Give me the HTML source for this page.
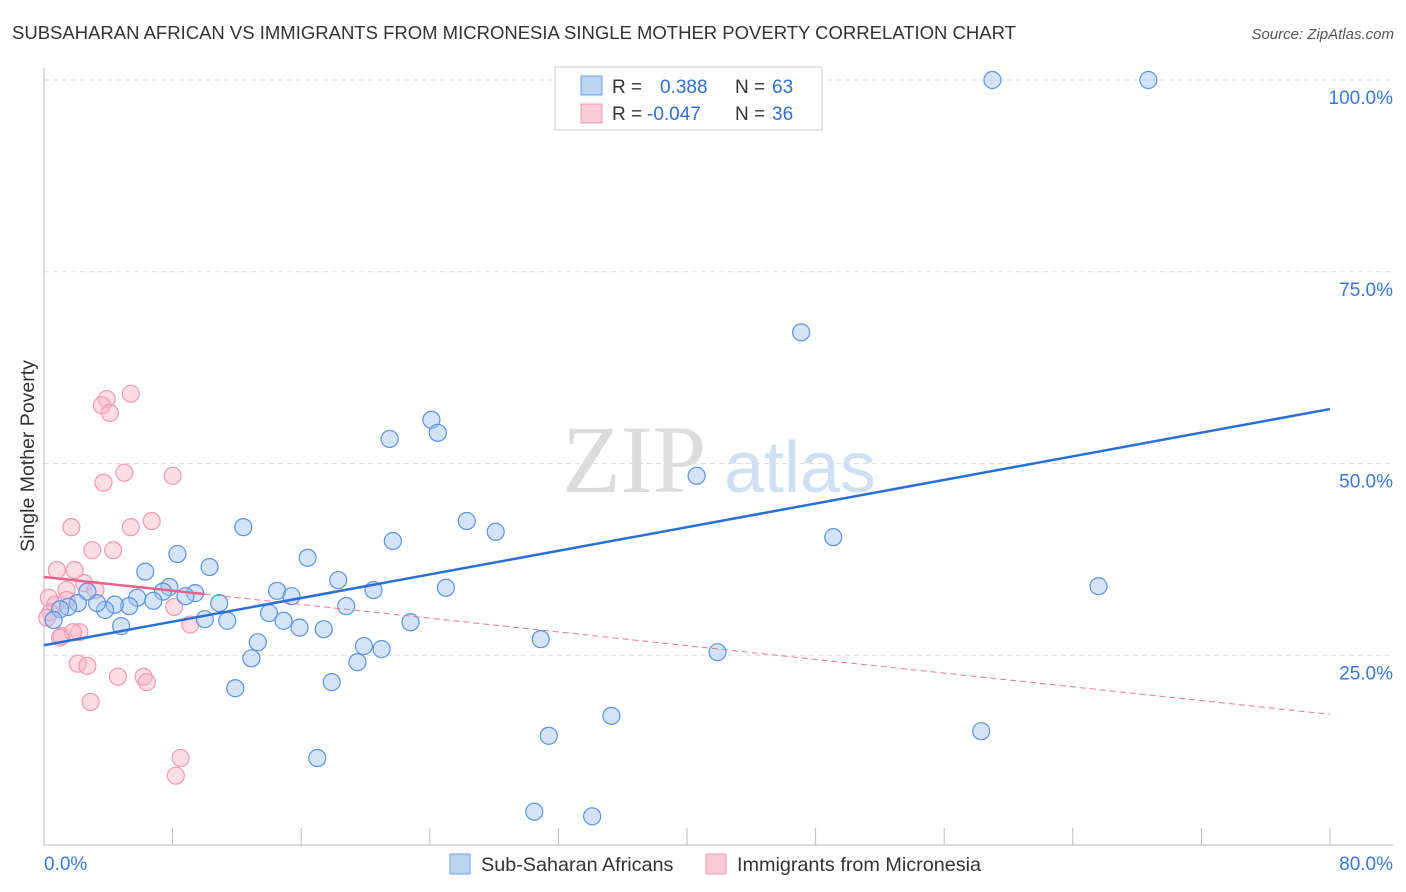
<!DOCTYPE html>
<html><head><meta charset="utf-8"><style>
body{margin:0;background:#fff;font-family:"Liberation Sans",sans-serif;}
svg{display:block}
</style></head><body>
<svg id="c" width="1406" height="892" xmlns="http://www.w3.org/2000/svg">
<text x="12" y="39" font-size="18.5" fill="#333">SUBSAHARAN AFRICAN VS IMMIGRANTS FROM MICRONESIA SINGLE MOTHER POVERTY CORRELATION CHART</text>
<text x="1394" y="39" font-size="15" fill="#555" font-style="italic" text-anchor="end">Source: ZipAtlas.com</text>
<text x="634" y="492" font-size="96" fill="#dcdcdc" font-family="Liberation Serif,serif" text-anchor="middle">ZIP</text>
<text x="800" y="492" font-size="72" fill="#cfe0f3" text-anchor="middle">atlas</text>
<g id="grid"></g><g id="marks"></g>
<text x="34" y="456" font-size="19.5" fill="#333" text-anchor="middle" transform="rotate(-90 34 456)">Single Mother Poverty</text>
<g>
<rect x="555" y="67" width="267" height="63" fill="#fff" stroke="#ccc"/>
<rect x="581" y="76" width="21" height="19" fill="#bcd5f5" stroke="#6a9fe0"/>
<rect x="581" y="104" width="21" height="19" fill="#fbcbd8" stroke="#ee9ab2"/>
<text x="612" y="93" font-size="19" fill="#333">R = </text><text x="660" y="93" font-size="19" fill="#2f6fd0">0.388</text>
<text x="735" y="93" font-size="19" fill="#333">N = </text><text x="772" y="93" font-size="19" fill="#2f6fd0">63</text>
<text x="612" y="120" font-size="19" fill="#333">R = </text><text x="647" y="120" font-size="19" fill="#2f6fd0">-0.047</text>
<text x="735" y="120" font-size="19" fill="#333">N = </text><text x="772" y="120" font-size="19" fill="#2f6fd0">36</text>
</g>
<g>
<rect x="450" y="854" width="20" height="20" fill="#bcd5f5" stroke="#6a9fe0"/>
<text x="481" y="871" font-size="19.8" fill="#333">Sub-Saharan Africans</text>
<rect x="706" y="854" width="20" height="20" fill="#fbcbd8" stroke="#ee9ab2"/>
<text x="737" y="871" font-size="19.8" fill="#333">Immigrants from Micronesia</text>
</g>
</svg>
<script>
const yTicks=[25,50,75,100];
const yTickLabels=["25.0%","50.0%","75.0%","100.0%"];
const xTicks=[0,8,16,24,32,40,48,56,64,72,80];
const blueX=[59.0,68.7,47.1,40.6,24.1,24.5,21.5,26.3,28.1,21.7,49.1,65.6,12.4,8.3,10.3,16.4,6.3,18.3,20.5,25.0,14.5,15.4,7.8,9.4,8.8,7.4,5.8,6.8,10.9,18.8,5.3,4.4,3.8,3.3,2.1,1.5,1.0,0.6,2.7,14.0,14.9,11.4,10.0,4.8,15.9,17.4,22.8,13.3,19.9,21.0,30.9,41.9,12.9,19.5,17.9,11.9,35.3,31.4,58.3,17.0,30.5,34.1];
const blueY=[100,100,67.1,48.4,55.7,54.0,53.2,42.5,41.1,39.9,40.4,34.0,41.7,38.2,36.5,37.7,35.9,34.8,33.5,33.8,33.4,32.7,33.9,33.1,32.7,33.3,32.5,32.1,31.8,31.4,31.4,31.6,30.9,31.8,31.8,31.3,31.0,29.6,33.3,30.5,29.5,29.5,29.7,28.8,28.6,28.4,29.3,26.7,26.2,25.8,27.1,25.4,24.6,24.1,21.5,20.7,17.1,14.5,15.1,11.6,4.6,4.0];
const pinkX=[5.4,3.9,3.6,4.1,5.0,3.7,8.0,1.7,5.4,6.7,3.0,4.3,0.8,1.9,2.5,3.2,1.4,0.3,0.7,1.4,8.1,9.1,2.2,1.1,1.8,0.4,2.1,2.7,4.6,6.2,6.4,2.9,8.5,8.2,0.2,1.0];
const pinkY=[59.1,58.4,57.6,56.6,48.8,47.5,48.4,41.7,41.7,42.5,38.7,38.7,36.1,36.1,34.4,33.5,33.5,32.5,31.6,32.2,31.3,29.0,28.0,27.5,28.0,30.6,23.9,23.6,22.2,22.2,21.5,18.9,11.6,9.3,29.9,27.3];
const blueTrend=[26.3,57.1];
const pinkTrend=[35.2,17.3];
const NS="http://www.w3.org/2000/svg";
const X=v=>44+v/80*1286, Y=v=>847-v/100*767;
const g=document.getElementById('grid'),m=document.getElementById('marks');
function mk(p,t,a){const e=document.createElementNS(NS,t);for(const k in a)e.setAttribute(k,a[k]);p.appendChild(e);return e;}
yTicks.forEach((t,i)=>{
 const l=mk(g,'line',{x1:44,x2:1393,y1:Y(t),y2:Y(t),stroke:'#ddd','stroke-dasharray':'5,4'});
 
 
 const tx=mk(g,'text',{x:1393,y:Y(t)+24,'font-size':19,fill:'#3a78d4','text-anchor':'end'});tx.textContent=yTickLabels[i];
 
 
});
mk(g,'line',{x1:44,x2:44,y1:68,y2:845,stroke:'#bbb'});
mk(g,'line',{x1:44,x2:1393,y1:845,y2:845,stroke:'#bbb'});
xTicks.forEach(t=>{const l=mk(g,'line',{x1:X(t),x2:X(t),y1:828,y2:845,stroke:'#bbb'});
 
 });
const a=mk(g,'text',{x:44,y:870,'font-size':19,fill:'#3a78d4'});a.textContent='0.0%';


const b=mk(g,'text',{x:1393,y:870,'font-size':19,fill:'#3a78d4','text-anchor':'end'});b.textContent='80.0%';


pinkX.forEach((x,i)=>{const c=mk(m,'circle',{cx:X(x),cy:Y(pinkY[i]),r:8.5,fill:'rgba(248,180,200,0.45)',stroke:'#ee9ab2','stroke-width':1.2});
 
 });
blueX.forEach((x,i)=>{const c=mk(m,'circle',{cx:X(x),cy:Y(blueY[i]),r:8.5,fill:'rgba(160,195,240,0.45)',stroke:'#5b93de','stroke-width':1.2});
 
 });
const pt=v=>pinkTrend[0]+(pinkTrend[1]-pinkTrend[0])*v/80;
const pd=mk(m,'line',{x1:X(10),y1:Y(pt(10)),x2:X(80),y2:Y(pt(80)),stroke:'#e8769a','stroke-width':1,'stroke-dasharray':'6,4'});


const ps=mk(m,'line',{x1:X(0),y1:Y(pt(0)),x2:X(10),y2:Y(pt(10)),stroke:'#e8628c','stroke-width':2.5});


const bl=mk(m,'line',{x1:X(0),y1:Y(blueTrend[0]),x2:X(80),y2:Y(blueTrend[1]),stroke:'#2a6fd6','stroke-width':2.5});


</script>
</body></html>
